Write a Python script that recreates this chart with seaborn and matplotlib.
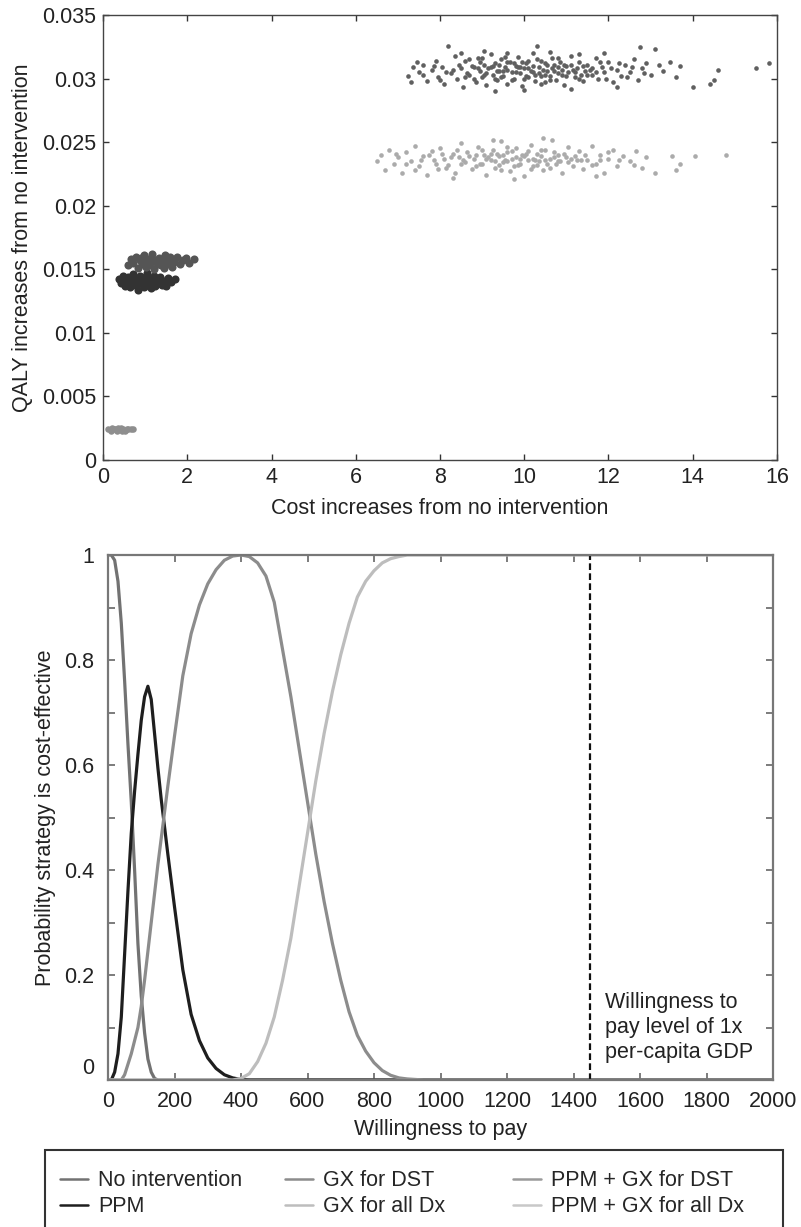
import seaborn as sns
import pandas as pd
import matplotlib
matplotlib.use("Agg")
import matplotlib.pyplot as plt
from matplotlib.patches import Rectangle

sns.set_style("ticks")
plt.rcParams["font.family"] = ["Liberation Sans", "DejaVu Sans"]
FS = 15.5

# ---- top panel: cost vs QALY clouds ----
cloud_a = [(0.12, 0.0024), (0.18, 0.0023), (0.22, 0.0025), (0.28, 0.0024), (0.33, 0.0023),
           (0.38, 0.0024), (0.42, 0.0025), (0.47, 0.0024), (0.52, 0.0023), (0.56, 0.0024),
           (0.60, 0.0024), (0.66, 0.0024), (0.72, 0.0024), (0.25, 0.0024), (0.45, 0.0023),
           (0.35, 0.0025)]
cloud_b = [(0.38, 0.0142), (0.42, 0.0139), (0.48, 0.0145), (0.52, 0.0137), (0.55, 0.0141),
           (0.60, 0.0144), (0.63, 0.0136), (0.68, 0.0140), (0.72, 0.0146), (0.75, 0.0138),
           (0.80, 0.0142), (0.83, 0.0134), (0.87, 0.0145), (0.90, 0.0139), (0.94, 0.0143),
           (0.97, 0.0136), (1.00, 0.0141), (1.04, 0.0147), (1.07, 0.0138), (1.10, 0.0143),
           (1.14, 0.0135), (1.17, 0.0140), (1.20, 0.0145), (1.24, 0.0137), (1.28, 0.0142),
           (1.32, 0.0139), (1.36, 0.0144), (1.40, 0.0138), (1.45, 0.0141), (1.50, 0.0137),
           (1.55, 0.0143), (1.62, 0.0140), (1.72, 0.0142), (0.65, 0.0141), (0.85, 0.0139),
           (1.05, 0.0141), (1.25, 0.0140), (0.95, 0.0140), (0.70, 0.0143), (1.15, 0.0138)]
cloud_c = [(0.60, 0.0153), (0.66, 0.0158), (0.72, 0.0155), (0.78, 0.0160), (0.82, 0.0151),
           (0.88, 0.0157), (0.93, 0.0154), (0.98, 0.0161), (1.03, 0.0152), (1.08, 0.0158),
           (1.12, 0.0155), (1.17, 0.0162), (1.22, 0.0150), (1.27, 0.0156), (1.32, 0.0159),
           (1.37, 0.0153), (1.42, 0.0157), (1.47, 0.0161), (1.52, 0.0154), (1.57, 0.0158),
           (1.63, 0.0152), (1.68, 0.0156), (1.75, 0.0160), (1.82, 0.0154), (1.90, 0.0157),
           (1.98, 0.0159), (2.05, 0.0155), (2.15, 0.0158), (1.00, 0.0156), (1.20, 0.0157),
           (1.40, 0.0155), (1.10, 0.0153), (1.30, 0.0154), (0.90, 0.0159), (1.60, 0.0160),
           (1.45, 0.0151)]
cloud_d = [(7.25, 0.0302), (7.35, 0.0309), (7.5, 0.0305), (7.6, 0.0311), (7.7, 0.0298),
           (7.8, 0.0307), (7.9, 0.0314), (7.95, 0.0301), (8.05, 0.0309), (8.1, 0.0296),
           (8.2, 0.0326), (8.25, 0.0304), (8.35, 0.0318), (8.4, 0.0300), (8.5, 0.0308),
           (8.55, 0.0293), (8.6, 0.0314), (8.7, 0.0303), (8.75, 0.0310), (8.85, 0.0297),
           (8.9, 0.0316), (8.95, 0.0306), (9.0, 0.0301), (9.05, 0.0311), (9.1, 0.0295),
           (9.15, 0.0308), (9.2, 0.0319), (9.25, 0.0303), (9.3, 0.0312), (9.35, 0.0299),
           (9.4, 0.0306), (9.45, 0.0315), (9.5, 0.0302), (9.55, 0.0309), (9.6, 0.0296),
           (9.65, 0.0313), (9.7, 0.0305), (9.75, 0.0300), (9.8, 0.0310), (9.85, 0.0317),
           (9.9, 0.0304), (9.95, 0.0294), (10.0, 0.0308), (10.05, 0.0312), (10.1, 0.0301),
           (10.15, 0.0306), (10.2, 0.0320), (10.25, 0.0298), (10.3, 0.0326), (10.35, 0.0304),
           (10.4, 0.0314), (10.45, 0.0307), (10.5, 0.0297), (10.55, 0.0311), (10.6, 0.0302),
           (10.65, 0.0316), (10.7, 0.0306), (10.75, 0.0299), (10.8, 0.0309), (10.85, 0.0313),
           (10.9, 0.0303), (10.95, 0.0295), (11.0, 0.0310), (11.05, 0.0305), (11.1, 0.0318),
           (11.2, 0.0301), (11.25, 0.0308), (11.3, 0.0313), (11.4, 0.0298), (11.45, 0.0306),
           (11.5, 0.0311), (11.6, 0.0303), (11.7, 0.0316), (11.75, 0.0300), (11.85, 0.0309),
           (11.9, 0.0305), (12.0, 0.0313), (12.1, 0.0297), (12.2, 0.0307), (12.3, 0.0302),
           (12.4, 0.0311), (12.5, 0.0305), (12.6, 0.0315), (12.7, 0.0299), (12.75, 0.0325),
           (12.8, 0.0308), (12.9, 0.0312), (13.0, 0.0303), (13.1, 0.0323), (13.3, 0.0306),
           (13.45, 0.0313), (13.6, 0.0301), (13.7, 0.0310), (14.0, 0.0293), (14.4, 0.0296),
           (14.5, 0.0299), (14.6, 0.0307), (15.5, 0.0308), (15.8, 0.0312),
           (8.3, 0.0307), (8.65, 0.0304), (8.8, 0.0309), (9.05, 0.0303), (9.25, 0.0310),
           (9.45, 0.0301), (9.6, 0.0307), (9.75, 0.0312), (9.9, 0.0309), (10.05, 0.0302),
           (10.2, 0.0305), (10.35, 0.0309), (10.5, 0.0303), (10.65, 0.0308), (10.8, 0.0304),
           (10.95, 0.0311), (11.15, 0.0307), (11.35, 0.0303), (9.35, 0.0306), (10.1, 0.0314),
           (9.55, 0.0317), (10.4, 0.0296), (8.95, 0.0313), (11.55, 0.0307),
           (8.15, 0.0305), (8.45, 0.0311), (8.6, 0.0301), (8.7, 0.0315), (8.8, 0.0300),
           (8.9, 0.0308), (9.0, 0.0316), (9.1, 0.0304), (9.2, 0.0309), (9.3, 0.0300),
           (9.4, 0.0311), (9.5, 0.0306), (9.6, 0.0313), (9.7, 0.0299), (9.8, 0.0305),
           (9.85, 0.0309), (9.95, 0.0313), (10.0, 0.0300), (10.1, 0.0308), (10.2, 0.0310),
           (10.25, 0.0303), (10.3, 0.0315), (10.4, 0.0302), (10.5, 0.0312), (10.55, 0.0306),
           (10.6, 0.0299), (10.7, 0.0311), (10.8, 0.0316), (10.9, 0.0307), (11.0, 0.0302),
           (11.1, 0.0311), (11.2, 0.0305), (11.3, 0.0300), (11.4, 0.0310), (11.5, 0.0303),
           (11.6, 0.0308), (11.7, 0.0305), (11.8, 0.0313), (11.95, 0.0300), (12.05, 0.0308),
           (12.25, 0.0312), (12.45, 0.0301), (12.55, 0.0309), (12.85, 0.0304), (13.2, 0.0311),
           (7.6, 0.0303), (7.85, 0.0310), (8.0, 0.0299), (7.45, 0.0313), (7.3, 0.0297),
           (8.5, 0.0320), (9.05, 0.0322), (9.6, 0.0320), (10.6, 0.0321), (11.3, 0.0319),
           (11.9, 0.0320), (9.3, 0.0290), (10.0, 0.0291), (11.1, 0.0292), (12.2, 0.0293)]
cloud_e = [(6.5, 0.0235), (6.6, 0.0240), (6.7, 0.0228), (6.8, 0.0244), (6.9, 0.0233),
           (7.0, 0.0238), (7.1, 0.0226), (7.2, 0.0242), (7.3, 0.0235), (7.4, 0.0247),
           (7.5, 0.0231), (7.6, 0.0239), (7.7, 0.0224), (7.8, 0.0243), (7.85, 0.0236),
           (7.95, 0.0229), (8.0, 0.0245), (8.1, 0.0237), (8.2, 0.0232), (8.3, 0.0241),
           (8.35, 0.0226), (8.45, 0.0238), (8.5, 0.0249), (8.6, 0.0234), (8.65, 0.0242),
           (8.75, 0.0229), (8.8, 0.0237), (8.9, 0.0246), (8.95, 0.0233), (9.05, 0.0240),
           (9.1, 0.0224), (9.2, 0.0236), (9.25, 0.0244), (9.3, 0.0230), (9.4, 0.0239),
           (9.45, 0.0251), (9.5, 0.0234), (9.6, 0.0242), (9.65, 0.0227), (9.7, 0.0237),
           (9.8, 0.0245), (9.85, 0.0232), (9.95, 0.0240), (10.0, 0.0223), (10.1, 0.0236),
           (10.15, 0.0248), (10.2, 0.0231), (10.3, 0.0241), (10.35, 0.0235), (10.45, 0.0228),
           (10.5, 0.0244), (10.6, 0.0237), (10.65, 0.0252), (10.75, 0.0233), (10.8, 0.0240),
           (10.9, 0.0226), (11.0, 0.0238), (11.05, 0.0246), (11.15, 0.0231), (11.2, 0.0239),
           (11.3, 0.0243), (11.4, 0.0229), (11.5, 0.0236), (11.6, 0.0247), (11.7, 0.0233),
           (11.8, 0.0240), (11.9, 0.0226), (12.0, 0.0237), (12.1, 0.0244), (12.2, 0.0231),
           (12.35, 0.0239), (12.5, 0.0235), (12.65, 0.0243), (12.8, 0.0230), (12.9, 0.0238),
           (13.1, 0.0226), (13.5, 0.0239), (13.6, 0.0228), (13.7, 0.0233), (14.05, 0.0239),
           (14.8, 0.0240),
           (8.55, 0.0236), (8.85, 0.0240), (9.0, 0.0233), (9.15, 0.0238), (9.35, 0.0241),
           (9.55, 0.0236), (9.75, 0.0231), (9.9, 0.0237), (10.05, 0.0241), (10.25, 0.0236),
           (10.4, 0.0239), (10.55, 0.0233), (10.7, 0.0238), (10.85, 0.0235), (11.1, 0.0237),
           (9.45, 0.0228), (10.15, 0.0229), (8.25, 0.0238), (11.35, 0.0236), (9.6, 0.0246),
           (7.55, 0.0236), (7.75, 0.0240), (7.9, 0.0233), (8.05, 0.0241), (8.15, 0.0230),
           (8.4, 0.0244), (8.5, 0.0233), (8.7, 0.0239), (8.85, 0.0231), (9.0, 0.0244),
           (9.1, 0.0237), (9.2, 0.0241), (9.3, 0.0235), (9.4, 0.0232), (9.5, 0.0240),
           (9.6, 0.0235), (9.7, 0.0243), (9.8, 0.0238), (9.9, 0.0233), (10.0, 0.0239),
           (10.1, 0.0243), (10.2, 0.0237), (10.3, 0.0232), (10.4, 0.0244), (10.5, 0.0236),
           (10.6, 0.0230), (10.7, 0.0242), (10.8, 0.0235), (10.95, 0.0241), (11.05, 0.0234),
           (11.25, 0.0236), (11.45, 0.0240), (11.6, 0.0232), (11.8, 0.0236), (12.0, 0.0242),
           (12.25, 0.0236), (7.2, 0.0233), (6.95, 0.0241), (7.4, 0.0228), (12.6, 0.0232),
           (9.25, 0.0252), (10.45, 0.0253), (8.3, 0.0222), (11.7, 0.0223), (9.75, 0.0221)]

clouds = [cloud_a, cloud_b, cloud_c, cloud_d, cloud_e]
cloud_colors = ["#8e8e8e", "#333333", "#555555", "#606060", "#ababab"]
cloud_sizes = [22, 34, 34, 11, 11]

# ---- bottom panel: acceptability curves ----
strategies = ["No intervention", "PPM", "GX for DST", "GX for all Dx",
              "PPM + GX for DST", "PPM + GX for all Dx"]
line_colors = ["#727272", "#1e1e1e", "#8c8c8c", "#bdbdbd", "#9a9a9a", "#c8c8c8"]

wtp = [0, 10, 20, 30, 40, 50, 60, 70, 80, 90, 100, 110, 120, 130, 140, 150, 160, 180, 200,
       225, 250, 275, 300, 325, 350, 375, 400, 425, 450, 475, 500, 525, 550, 575, 600, 625,
       650, 675, 700, 725, 750, 775, 800, 825, 850, 875, 900, 950, 1000, 1200, 1400, 1600,
       1800, 2000]
p_none = [1.0, 1.0, 0.99, 0.95, 0.87, 0.76, 0.64, 0.53, 0.40, 0.26, 0.16, 0.09, 0.04, 0.015,
          0.003, 0, 0, 0, 0,
          0, 0, 0, 0, 0, 0, 0, 0, 0, 0, 0, 0, 0, 0, 0, 0, 0,
          0, 0, 0, 0, 0, 0, 0, 0, 0, 0, 0, 0, 0, 0, 0, 0, 0, 0]
p_ppm = [0, 0, 0.015, 0.05, 0.12, 0.24, 0.36, 0.47, 0.55, 0.62, 0.685, 0.73, 0.75, 0.725,
         0.66, 0.595, 0.535, 0.43, 0.33,
         0.21, 0.125, 0.075, 0.042, 0.022, 0.01, 0.004, 0.001, 0, 0, 0, 0, 0, 0, 0, 0, 0,
         0, 0, 0, 0, 0, 0, 0, 0, 0, 0, 0, 0, 0, 0, 0, 0, 0, 0]
p_gx_dst = [0, 0, 0, 0, 0, 0.01, 0.03, 0.05, 0.075, 0.10, 0.14, 0.19, 0.245, 0.30, 0.355,
            0.41, 0.46, 0.56, 0.655,
            0.77, 0.85, 0.905, 0.945, 0.972, 0.99, 0.998, 1.0, 0.997, 0.985, 0.96, 0.91, 0.82,
            0.73, 0.63, 0.53, 0.43,
            0.34, 0.26, 0.19, 0.13, 0.085, 0.055, 0.033, 0.018, 0.009, 0.004, 0.002, 0, 0, 0,
            0, 0, 0, 0]
p_gx_all = [0, 0, 0, 0, 0, 0, 0, 0, 0, 0, 0, 0, 0, 0, 0, 0, 0, 0, 0,
            0, 0, 0, 0, 0, 0, 0, 0.003, 0.012, 0.035, 0.07, 0.12, 0.19, 0.27, 0.37, 0.47, 0.57,
            0.66, 0.74, 0.81, 0.87, 0.92, 0.95, 0.97, 0.985, 0.993, 0.997, 1.0, 1.0, 1.0, 1.0,
            1.0, 1.0, 1.0, 1.0]
p_ppm_gx_dst = [0] * len(wtp)
p_ppm_gx_all = [0] * len(wtp)

gdp_line = 1450
gdp_text = "Willingness to\npay level of 1x\nper-capita GDP"

# ---- figure ----
fig = plt.figure(figsize=(8.01, 12.27), dpi=100)
ax1 = fig.add_axes([103 / 801, 1 - 460 / 1227, 674 / 801, 445 / 1227])
ax2 = fig.add_axes([108 / 801, 1 - 1080 / 1227, 665 / 801, 525 / 1227])

for pts, col, sz in zip(clouds, cloud_colors, cloud_sizes):
    df = pd.DataFrame(pts, columns=["cost", "qaly"])
    sns.scatterplot(data=df, x="cost", y="qaly", color=col, s=sz, linewidth=0, ax=ax1)

ax1.set_xlim(0, 16)
ax1.set_ylim(0, 0.035)
ax1.set_xticks(range(0, 17, 2))
ax1.set_yticks([0, 0.005, 0.01, 0.015, 0.02, 0.025, 0.03, 0.035])
ax1.set_yticklabels(["0", "0.005", "0.01", "0.015", "0.02", "0.025", "0.03", "0.035"])
ax1.tick_params(direction="in", top=True, right=True, length=4, width=1,
                labelsize=FS, colors="#333333", labelcolor="#222222", pad=5)
ax1.set_xlabel("Cost increases from no intervention", fontsize=FS, color="#222222",
               labelpad=7)
ax1.set_ylabel("QALY increases from no intervention", fontsize=FS, color="#222222",
               labelpad=6)
for sp in ax1.spines.values():
    sp.set_color("#444444")
    sp.set_linewidth(1.0)

curves = [p_none, p_ppm, p_gx_dst, p_gx_all, p_ppm_gx_dst, p_ppm_gx_all]
rows = []
for name, vals in zip(strategies, curves):
    for w, p in zip(wtp, vals):
        rows.append({"wtp": w, "prob": p, "strategy": name})
ce = pd.DataFrame(rows)

sns.lineplot(data=ce, x="wtp", y="prob", hue="strategy", hue_order=strategies,
             palette=line_colors, linewidth=2.3, estimator=None, sort=False, ax=ax2)
ax2.axvline(gdp_line, color="#111111", linestyle=(0, (3, 1.5)), linewidth=1.6)
ax2.text(gdp_line + 45, 0.1, gdp_text, fontsize=FS, color="#222222", va="center",
         ha="left", linespacing=1.25)

ax2.set_xlim(0, 2000)
ax2.set_ylim(0, 1)
ax2.set_xticks(range(0, 2001, 200))
ax2.set_yticks([i / 10 for i in range(11)])
ax2.set_yticklabels(["", "", "0.2", "", "0.4", "", "0.6", "", "0.8", "", "1"])
ax2.tick_params(direction="in", top=True, right=True, length=5, width=1.2,
                labelsize=FS, colors="#666666", labelcolor="#222222")
ax2.tick_params(axis="x", pad=8)
ax2.tick_params(axis="y", pad=10)
# the zero label sits a little above the axis line in the original
ax2.annotate("0", xy=(0, 0), xycoords="axes fraction", xytext=(-14, 11),
             textcoords="offset pixels", ha="right", va="center", fontsize=FS,
             color="#222222")
ax2.set_xlabel("Willingness to pay", fontsize=FS, color="#222222", labelpad=5)
ax2.set_ylabel("Probability strategy is cost-effective", fontsize=FS, color="#222222",
               labelpad=6)
for sp in ax2.spines.values():
    sp.set_color("#777777")
    sp.set_linewidth(1.6)

# legend: three columns placed where the original has them
leg = ax2.get_legend()
handles = leg.legend_handles
labels = [t.get_text() for t in leg.get_texts()]
leg.remove()
col_x = [41, 266, 494]
for i, x0 in enumerate(col_x):
    lg = fig.legend(handles[2 * i:2 * i + 2], labels[2 * i:2 * i + 2], loc="upper left",
                    bbox_to_anchor=(x0 / 801, 1 - 1151 / 1227), frameon=False,
                    fontsize=FS, handlelength=1.26, handletextpad=0.5, labelspacing=0.22)
    for h in lg.get_lines():
        h.set_linewidth(1.8)

fig.patches.append(Rectangle((45 / 801, -0.05), 738 / 801, 0.05 + (1227 - 1150) / 1227,
                             transform=fig.transFigure, fill=False, edgecolor="#333333",
                             linewidth=1.5))

fig.savefig("out.png", dpi=100)
